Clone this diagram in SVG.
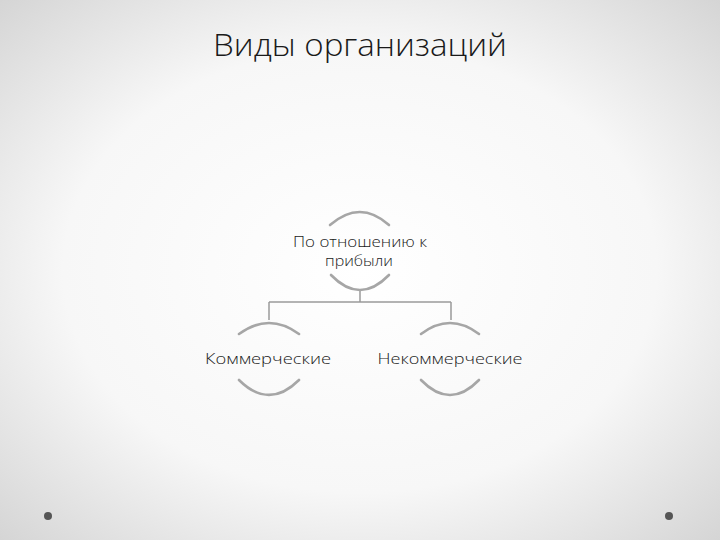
<svg xmlns="http://www.w3.org/2000/svg" width="720" height="540" viewBox="0 0 720 540">
<defs>
<radialGradient id="bg" cx="50%" cy="50%" r="75%">
<stop offset="0" stop-color="#ffffff"/>
<stop offset="0.55" stop-color="#f7f7f7"/>
<stop offset="1" stop-color="#d0d0d0"/>
</radialGradient>
<style>
.arc{fill:none;stroke:#a6a6a6;stroke-width:2.6;stroke-linecap:round}
.con{fill:none;stroke:#9a9a9a;stroke-width:1.5}
.lbl{font-family:"Open Sans","DejaVu Sans",sans-serif;font-weight:300;font-size:14px;fill:#1a1a1a;text-anchor:middle}
.title{font-family:"Open Sans","DejaVu Sans",sans-serif;font-weight:300;font-size:31px;fill:#1a1a1a;text-anchor:middle}
.dot{fill:#555}
</style>
</defs>
<rect width="720" height="540" fill="url(#bg)"/>
<circle class="dot" cx="48" cy="516" r="4"/>
<circle class="dot" cx="669" cy="516" r="4"/>
<text class="title" x="360" y="56" textLength="294" lengthAdjust="spacingAndGlyphs">Виды организаций</text>
<g id="connectors">
<path class="con" d="M360 290 V302 M269 302 H451 M269 302 V320"/>
<path class="con" d="M451 302 V320"/>
</g>
<g id="node-root">
<path class="arc" d="M330 225 Q360 199 389 225"/>
<path class="arc" d="M331 275 Q360 305 389 275"/>
<text class="lbl" x="360" y="247" font-size="13" textLength="134" lengthAdjust="spacingAndGlyphs">По отношению к</text>
<text class="lbl" x="359" y="266" font-size="13" textLength="68" lengthAdjust="spacingAndGlyphs">прибыли</text>
</g>
<g id="node-commercial">
<path class="arc" d="M239 334 Q269 312 299 334"/>
<path class="arc" d="M239 380 Q269 410 299 380"/>
<text class="lbl" x="268" y="364" font-size="15" textLength="126" lengthAdjust="spacingAndGlyphs">Коммерческие</text>
</g>
<g id="node-noncommercial">
<path class="arc" d="M421 334 Q450 312 479 334"/>
<path class="arc" d="M421 380 Q450 410 479 380"/>
<text class="lbl" x="450" y="364" font-size="15" textLength="145" lengthAdjust="spacingAndGlyphs">Некоммерческие</text>
</g>
</svg>
